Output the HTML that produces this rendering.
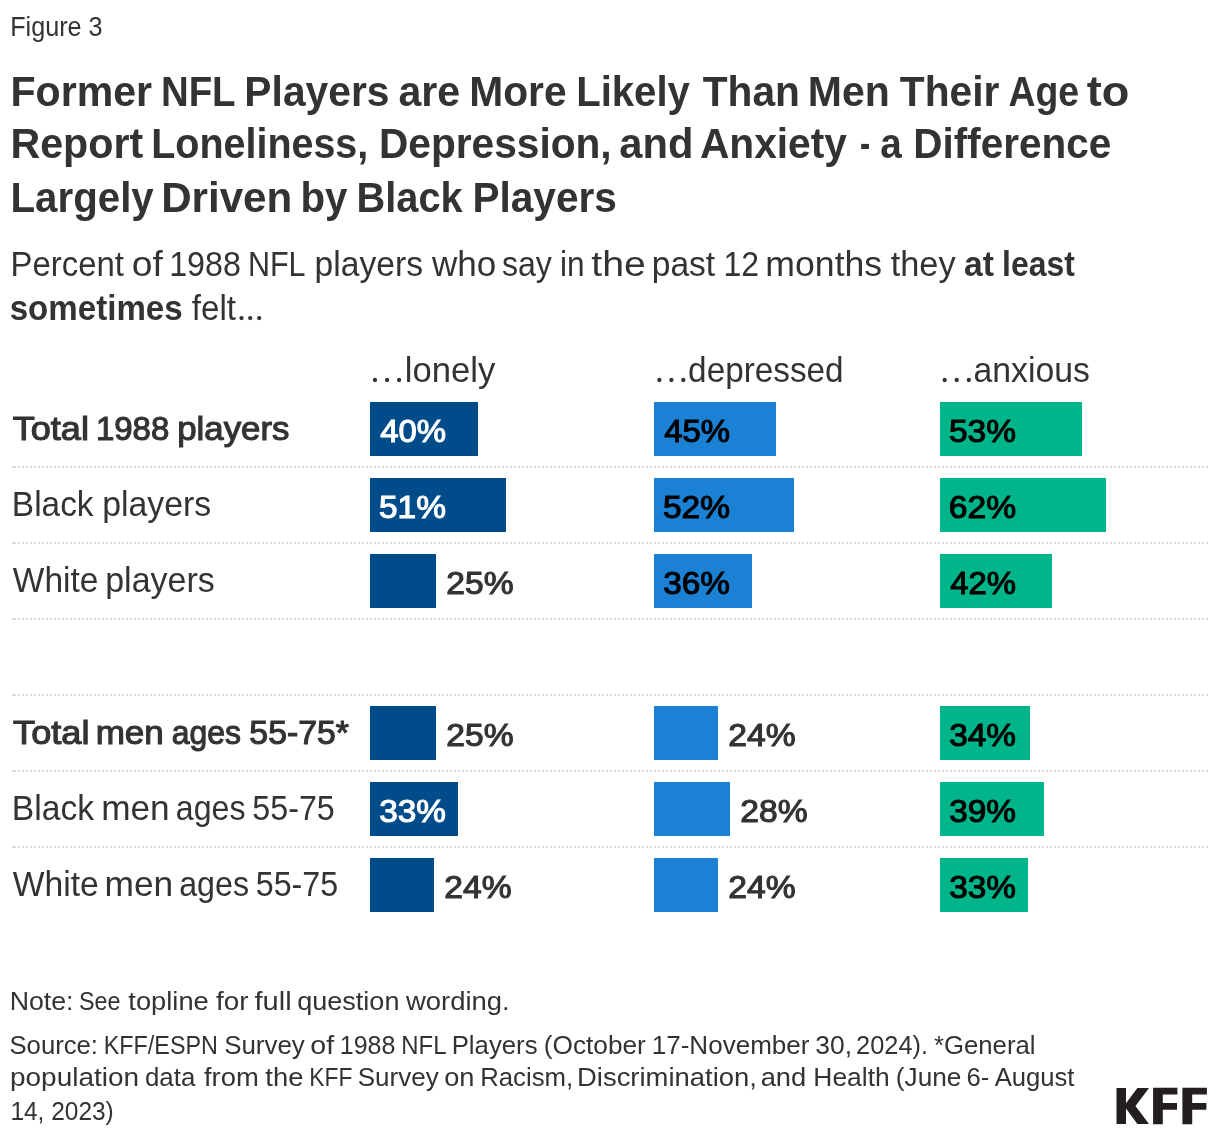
<!DOCTYPE html><html><head><meta charset="utf-8"><style>html,body{margin:0;padding:0;background:#fff;}svg{display:block;will-change:transform;}text{font-family:"Liberation Sans",sans-serif;}</style></head><body>
<svg width="1220" height="1138" viewBox="0 0 1220 1138">
<rect x="0" y="0" width="1220" height="1138" fill="#ffffff"/>
<rect x="12" y="466" width="4" height="2" fill="#d9d9d9"/>
<line x1="18" y1="467" x2="1208" y2="467" stroke="#d9d9d9" stroke-width="2" stroke-dasharray="2 2"/>
<rect x="12" y="542" width="4" height="2" fill="#d9d9d9"/>
<line x1="18" y1="543" x2="1208" y2="543" stroke="#d9d9d9" stroke-width="2" stroke-dasharray="2 2"/>
<rect x="12" y="618" width="4" height="2" fill="#d9d9d9"/>
<line x1="18" y1="619" x2="1208" y2="619" stroke="#d9d9d9" stroke-width="2" stroke-dasharray="2 2"/>
<rect x="12" y="694" width="4" height="2" fill="#d9d9d9"/>
<line x1="18" y1="695" x2="1208" y2="695" stroke="#d9d9d9" stroke-width="2" stroke-dasharray="2 2"/>
<rect x="12" y="770" width="4" height="2" fill="#d9d9d9"/>
<line x1="18" y1="771" x2="1208" y2="771" stroke="#d9d9d9" stroke-width="2" stroke-dasharray="2 2"/>
<rect x="12" y="846" width="4" height="2" fill="#d9d9d9"/>
<line x1="18" y1="847" x2="1208" y2="847" stroke="#d9d9d9" stroke-width="2" stroke-dasharray="2 2"/>
<rect x="370" y="402" width="108" height="54" fill="#004b89"/>
<rect x="654" y="402" width="122" height="54" fill="#1b81d5"/>
<rect x="940" y="402" width="142" height="54" fill="#00b58a"/>
<rect x="370" y="478" width="136" height="54" fill="#004b89"/>
<rect x="654" y="478" width="140" height="54" fill="#1b81d5"/>
<rect x="940" y="478" width="166" height="54" fill="#00b58a"/>
<rect x="370" y="554" width="66" height="54" fill="#004b89"/>
<rect x="654" y="554" width="98" height="54" fill="#1b81d5"/>
<rect x="940" y="554" width="112" height="54" fill="#00b58a"/>
<rect x="370" y="706" width="66" height="54" fill="#004b89"/>
<rect x="654" y="706" width="64" height="54" fill="#1b81d5"/>
<rect x="940" y="706" width="90" height="54" fill="#00b58a"/>
<rect x="370" y="782" width="88" height="54" fill="#004b89"/>
<rect x="654" y="782" width="76" height="54" fill="#1b81d5"/>
<rect x="940" y="782" width="104" height="54" fill="#00b58a"/>
<rect x="370" y="858" width="64" height="54" fill="#004b89"/>
<rect x="654" y="858" width="64" height="54" fill="#1b81d5"/>
<rect x="940" y="858" width="88" height="54" fill="#00b58a"/>
<text x="10.19" y="36" font-size="26.9" fill="#333333" textLength="92.37" lengthAdjust="spacingAndGlyphs" xml:space="preserve"><tspan font-weight="400">Figure 3</tspan></text>
<text x="10.45" y="105.8" font-size="42.2" fill="#333333" textLength="141.59" lengthAdjust="spacingAndGlyphs" xml:space="preserve"><tspan font-weight="700">Former</tspan></text>
<text x="160.93" y="105.8" font-size="42.2" fill="#333333" textLength="74.65" lengthAdjust="spacingAndGlyphs" xml:space="preserve"><tspan font-weight="700">NFL</tspan></text>
<text x="244.37" y="105.8" font-size="42.2" fill="#333333" textLength="145.14" lengthAdjust="spacingAndGlyphs" xml:space="preserve"><tspan font-weight="700">Players</tspan></text>
<text x="398.43" y="105.8" font-size="42.2" fill="#333333" textLength="61.69" lengthAdjust="spacingAndGlyphs" xml:space="preserve"><tspan font-weight="700">are</tspan></text>
<text x="469.19" y="105.8" font-size="42.2" fill="#333333" textLength="97.37" lengthAdjust="spacingAndGlyphs" xml:space="preserve"><tspan font-weight="700">More</tspan></text>
<text x="576.17" y="105.8" font-size="42.2" fill="#333333" textLength="113.67" lengthAdjust="spacingAndGlyphs" xml:space="preserve"><tspan font-weight="700">Likely</tspan></text>
<text x="702.74" y="105.8" font-size="42.2" fill="#333333" textLength="97.11" lengthAdjust="spacingAndGlyphs" xml:space="preserve"><tspan font-weight="700">Than</tspan></text>
<text x="807.80" y="105.8" font-size="42.2" fill="#333333" textLength="82.02" lengthAdjust="spacingAndGlyphs" xml:space="preserve"><tspan font-weight="700">Men</tspan></text>
<text x="899.79" y="105.8" font-size="42.2" fill="#333333" textLength="99.52" lengthAdjust="spacingAndGlyphs" xml:space="preserve"><tspan font-weight="700">Their</tspan></text>
<text x="1008.48" y="105.8" font-size="42.2" fill="#333333" textLength="70.59" lengthAdjust="spacingAndGlyphs" xml:space="preserve"><tspan font-weight="700">Age</tspan></text>
<text x="1086.83" y="105.8" font-size="42.2" fill="#333333" textLength="42.56" lengthAdjust="spacingAndGlyphs" xml:space="preserve"><tspan font-weight="700">to</tspan></text>
<text x="10.45" y="158" font-size="42.2" fill="#333333" textLength="132.69" lengthAdjust="spacingAndGlyphs" xml:space="preserve"><tspan font-weight="700">Report</tspan></text>
<text x="151.22" y="158" font-size="42.2" fill="#333333" textLength="217.06" lengthAdjust="spacingAndGlyphs" xml:space="preserve"><tspan font-weight="700">Loneliness,</tspan></text>
<text x="378.92" y="158" font-size="42.2" fill="#333333" textLength="232.77" lengthAdjust="spacingAndGlyphs" xml:space="preserve"><tspan font-weight="700">Depression,</tspan></text>
<text x="619.35" y="158" font-size="42.2" fill="#333333" textLength="74.15" lengthAdjust="spacingAndGlyphs" xml:space="preserve"><tspan font-weight="700">and</tspan></text>
<text x="699.91" y="158" font-size="42.2" fill="#333333" textLength="147.00" lengthAdjust="spacingAndGlyphs" xml:space="preserve"><tspan font-weight="700">Anxiety</tspan></text>
<text x="859.98" y="158" font-size="42.2" fill="#333333" textLength="10.17" lengthAdjust="spacingAndGlyphs" xml:space="preserve"><tspan font-weight="700">-</tspan></text>
<text x="880.34" y="158" font-size="42.2" fill="#333333" textLength="21.52" lengthAdjust="spacingAndGlyphs" xml:space="preserve"><tspan font-weight="700">a</tspan></text>
<text x="913.15" y="158" font-size="42.2" fill="#333333" textLength="198.12" lengthAdjust="spacingAndGlyphs" xml:space="preserve"><tspan font-weight="700">Difference</tspan></text>
<text x="10.51" y="211.7" font-size="42.2" fill="#333333" textLength="143.21" lengthAdjust="spacingAndGlyphs" xml:space="preserve"><tspan font-weight="700">Largely</tspan></text>
<text x="161.17" y="211.7" font-size="42.2" fill="#333333" textLength="131.15" lengthAdjust="spacingAndGlyphs" xml:space="preserve"><tspan font-weight="700">Driven</tspan></text>
<text x="300.40" y="211.7" font-size="42.2" fill="#333333" textLength="47.00" lengthAdjust="spacingAndGlyphs" xml:space="preserve"><tspan font-weight="700">by</tspan></text>
<text x="356.50" y="211.7" font-size="42.2" fill="#333333" textLength="106.22" lengthAdjust="spacingAndGlyphs" xml:space="preserve"><tspan font-weight="700">Black</tspan></text>
<text x="472.42" y="211.7" font-size="42.2" fill="#333333" textLength="144.55" lengthAdjust="spacingAndGlyphs" xml:space="preserve"><tspan font-weight="700">Players</tspan></text>
<text x="10.51" y="275.7" font-size="34.2" fill="#333333" textLength="113.40" lengthAdjust="spacingAndGlyphs" xml:space="preserve"><tspan font-weight="400">Percent</tspan></text>
<text x="131.84" y="275.7" font-size="34.2" fill="#333333" textLength="31.08" lengthAdjust="spacingAndGlyphs" xml:space="preserve"><tspan font-weight="400">of</tspan></text>
<text x="169.13" y="275.7" font-size="34.2" fill="#333333" textLength="71.75" lengthAdjust="spacingAndGlyphs" xml:space="preserve"><tspan font-weight="400">1988</tspan></text>
<text x="247.92" y="275.7" font-size="34.2" fill="#333333" textLength="57.63" lengthAdjust="spacingAndGlyphs" xml:space="preserve"><tspan font-weight="400">NFL</tspan></text>
<text x="314.61" y="275.7" font-size="34.2" fill="#333333" textLength="108.38" lengthAdjust="spacingAndGlyphs" xml:space="preserve"><tspan font-weight="400">players</tspan></text>
<text x="431.99" y="275.7" font-size="34.2" fill="#333333" textLength="64.24" lengthAdjust="spacingAndGlyphs" xml:space="preserve"><tspan font-weight="400">who</tspan></text>
<text x="501.94" y="275.7" font-size="34.2" fill="#333333" textLength="49.99" lengthAdjust="spacingAndGlyphs" xml:space="preserve"><tspan font-weight="400">say</tspan></text>
<text x="559.94" y="275.7" font-size="34.2" fill="#333333" textLength="24.58" lengthAdjust="spacingAndGlyphs" xml:space="preserve"><tspan font-weight="400">in</tspan></text>
<text x="591.28" y="275.7" font-size="34.2" fill="#333333" textLength="54.59" lengthAdjust="spacingAndGlyphs" xml:space="preserve"><tspan font-weight="400">the</tspan></text>
<text x="651.69" y="275.7" font-size="34.2" fill="#333333" textLength="63.53" lengthAdjust="spacingAndGlyphs" xml:space="preserve"><tspan font-weight="400">past</tspan></text>
<text x="723.58" y="275.7" font-size="34.2" fill="#333333" textLength="35.57" lengthAdjust="spacingAndGlyphs" xml:space="preserve"><tspan font-weight="400">12</tspan></text>
<text x="765.37" y="275.7" font-size="34.2" fill="#333333" textLength="116.82" lengthAdjust="spacingAndGlyphs" xml:space="preserve"><tspan font-weight="400">months</tspan></text>
<text x="890.73" y="275.7" font-size="34.2" fill="#333333" textLength="64.91" lengthAdjust="spacingAndGlyphs" xml:space="preserve"><tspan font-weight="400">they</tspan></text>
<text x="964.01" y="275.7" font-size="34.2" fill="#333333" textLength="29.84" lengthAdjust="spacingAndGlyphs" xml:space="preserve"><tspan font-weight="700">at</tspan></text>
<text x="1002.02" y="275.7" font-size="34.2" fill="#333333" textLength="72.80" lengthAdjust="spacingAndGlyphs" xml:space="preserve"><tspan font-weight="700">least</tspan></text>
<text x="9.72" y="320" font-size="34.2" fill="#333333" textLength="226.24" lengthAdjust="spacingAndGlyphs" xml:space="preserve"><tspan font-weight="700">sometimes</tspan><tspan font-weight="400"> felt</tspan></text>
<text x="404.76" y="382" font-size="34.5" fill="#333333" textLength="90.51" lengthAdjust="spacingAndGlyphs" xml:space="preserve"><tspan font-weight="400">lonely</tspan></text>
<text x="688.12" y="382" font-size="34.5" fill="#333333" textLength="155.50" lengthAdjust="spacingAndGlyphs" xml:space="preserve"><tspan font-weight="400">depressed</tspan></text>
<text x="973.53" y="382" font-size="34.5" fill="#333333" textLength="116.36" lengthAdjust="spacingAndGlyphs" xml:space="preserve"><tspan font-weight="400">anxious</tspan></text>
<text x="12.68" y="440" font-size="33.2" fill="#333333" textLength="76.30" lengthAdjust="spacingAndGlyphs" xml:space="preserve"><tspan font-weight="400" stroke="#333333" stroke-width="1.1">Total</tspan></text>
<text x="95.97" y="440" font-size="33.2" fill="#333333" textLength="73.31" lengthAdjust="spacingAndGlyphs" xml:space="preserve"><tspan font-weight="400" stroke="#333333" stroke-width="1.1">1988</tspan></text>
<text x="177.19" y="440" font-size="33.2" fill="#333333" textLength="112.20" lengthAdjust="spacingAndGlyphs" xml:space="preserve"><tspan font-weight="400" stroke="#333333" stroke-width="1.1">players</tspan></text>
<text x="11.86" y="516" font-size="34.5" fill="#333333" textLength="81.68" lengthAdjust="spacingAndGlyphs" xml:space="preserve"><tspan font-weight="400">Black</tspan></text>
<text x="102.21" y="516" font-size="34.5" fill="#333333" textLength="109.03" lengthAdjust="spacingAndGlyphs" xml:space="preserve"><tspan font-weight="400">players</tspan></text>
<text x="12.79" y="592" font-size="34.5" fill="#333333" textLength="85.63" lengthAdjust="spacingAndGlyphs" xml:space="preserve"><tspan font-weight="400">White</tspan></text>
<text x="105.19" y="592" font-size="34.5" fill="#333333" textLength="109.51" lengthAdjust="spacingAndGlyphs" xml:space="preserve"><tspan font-weight="400">players</tspan></text>
<text x="13.13" y="744" font-size="33.2" fill="#333333" textLength="76.37" lengthAdjust="spacingAndGlyphs" xml:space="preserve"><tspan font-weight="400" stroke="#333333" stroke-width="1.1">Total</tspan></text>
<text x="95.68" y="744" font-size="33.2" fill="#333333" textLength="68.16" lengthAdjust="spacingAndGlyphs" xml:space="preserve"><tspan font-weight="400" stroke="#333333" stroke-width="1.1">men</tspan></text>
<text x="171.83" y="744" font-size="33.2" fill="#333333" textLength="69.15" lengthAdjust="spacingAndGlyphs" xml:space="preserve"><tspan font-weight="400" stroke="#333333" stroke-width="1.1">ages</tspan></text>
<text x="249.35" y="744" font-size="33.2" fill="#333333" textLength="99.54" lengthAdjust="spacingAndGlyphs" xml:space="preserve"><tspan font-weight="400" stroke="#333333" stroke-width="1.1">55-75*</tspan></text>
<text x="11.84" y="820" font-size="34.5" fill="#333333" textLength="82.35" lengthAdjust="spacingAndGlyphs" xml:space="preserve"><tspan font-weight="400">Black</tspan></text>
<text x="101.24" y="820" font-size="34.5" fill="#333333" textLength="68.47" lengthAdjust="spacingAndGlyphs" xml:space="preserve"><tspan font-weight="400">men</tspan></text>
<text x="175.87" y="820" font-size="34.5" fill="#333333" textLength="69.61" lengthAdjust="spacingAndGlyphs" xml:space="preserve"><tspan font-weight="400">ages</tspan></text>
<text x="252.36" y="820" font-size="34.5" fill="#333333" textLength="82.40" lengthAdjust="spacingAndGlyphs" xml:space="preserve"><tspan font-weight="400">55-75</tspan></text>
<text x="12.79" y="896" font-size="34.5" fill="#333333" textLength="86.04" lengthAdjust="spacingAndGlyphs" xml:space="preserve"><tspan font-weight="400">White</tspan></text>
<text x="104.49" y="896" font-size="34.5" fill="#333333" textLength="68.71" lengthAdjust="spacingAndGlyphs" xml:space="preserve"><tspan font-weight="400">men</tspan></text>
<text x="179.19" y="896" font-size="34.5" fill="#333333" textLength="69.82" lengthAdjust="spacingAndGlyphs" xml:space="preserve"><tspan font-weight="400">ages</tspan></text>
<text x="255.74" y="896" font-size="34.5" fill="#333333" textLength="82.36" lengthAdjust="spacingAndGlyphs" xml:space="preserve"><tspan font-weight="400">55-75</tspan></text>
<text x="9.67" y="1010" font-size="25.9" fill="#333333" textLength="63.86" lengthAdjust="spacingAndGlyphs" xml:space="preserve"><tspan font-weight="400">Note:</tspan></text>
<text x="78.91" y="1010" font-size="25.9" fill="#333333" textLength="41.53" lengthAdjust="spacingAndGlyphs" xml:space="preserve"><tspan font-weight="400">See</tspan></text>
<text x="128.35" y="1010" font-size="25.9" fill="#333333" textLength="80.43" lengthAdjust="spacingAndGlyphs" xml:space="preserve"><tspan font-weight="400">topline</tspan></text>
<text x="216.02" y="1010" font-size="25.9" fill="#333333" textLength="32.49" lengthAdjust="spacingAndGlyphs" xml:space="preserve"><tspan font-weight="400">for</tspan></text>
<text x="254.46" y="1010" font-size="25.9" fill="#333333" textLength="37.15" lengthAdjust="spacingAndGlyphs" xml:space="preserve"><tspan font-weight="400">full</tspan></text>
<text x="297.19" y="1010" font-size="25.9" fill="#333333" textLength="102.24" lengthAdjust="spacingAndGlyphs" xml:space="preserve"><tspan font-weight="400">question</tspan></text>
<text x="405.95" y="1010" font-size="25.9" fill="#333333" textLength="103.79" lengthAdjust="spacingAndGlyphs" xml:space="preserve"><tspan font-weight="400">wording.</tspan></text>
<text x="9.49" y="1053.8" font-size="25.9" fill="#333333" textLength="88.51" lengthAdjust="spacingAndGlyphs" xml:space="preserve"><tspan font-weight="400">Source:</tspan></text>
<text x="103.76" y="1053.8" font-size="25.9" fill="#333333" textLength="114.13" lengthAdjust="spacingAndGlyphs" xml:space="preserve"><tspan font-weight="400">KFF/ESPN</tspan></text>
<text x="224.18" y="1053.8" font-size="25.9" fill="#333333" textLength="80.59" lengthAdjust="spacingAndGlyphs" xml:space="preserve"><tspan font-weight="400">Survey</tspan></text>
<text x="310.27" y="1053.8" font-size="25.9" fill="#333333" textLength="23.82" lengthAdjust="spacingAndGlyphs" xml:space="preserve"><tspan font-weight="400">of</tspan></text>
<text x="339.78" y="1053.8" font-size="25.9" fill="#333333" textLength="55.56" lengthAdjust="spacingAndGlyphs" xml:space="preserve"><tspan font-weight="400">1988</tspan></text>
<text x="401.29" y="1053.8" font-size="25.9" fill="#333333" textLength="45.15" lengthAdjust="spacingAndGlyphs" xml:space="preserve"><tspan font-weight="400">NFL</tspan></text>
<text x="451.70" y="1053.8" font-size="25.9" fill="#333333" textLength="85.88" lengthAdjust="spacingAndGlyphs" xml:space="preserve"><tspan font-weight="400">Players</tspan></text>
<text x="543.88" y="1053.8" font-size="25.9" fill="#333333" textLength="101.93" lengthAdjust="spacingAndGlyphs" xml:space="preserve"><tspan font-weight="400">(October</tspan></text>
<text x="651.73" y="1053.8" font-size="25.9" fill="#333333" textLength="157.79" lengthAdjust="spacingAndGlyphs" xml:space="preserve"><tspan font-weight="400">17-November</tspan></text>
<text x="815.38" y="1053.8" font-size="25.9" fill="#333333" textLength="36.75" lengthAdjust="spacingAndGlyphs" xml:space="preserve"><tspan font-weight="400">30,</tspan></text>
<text x="856.11" y="1053.8" font-size="25.9" fill="#333333" textLength="71.86" lengthAdjust="spacingAndGlyphs" xml:space="preserve"><tspan font-weight="400">2024).</tspan></text>
<text x="934.02" y="1053.8" font-size="25.9" fill="#333333" textLength="101.46" lengthAdjust="spacingAndGlyphs" xml:space="preserve"><tspan font-weight="400">*General</tspan></text>
<text x="9.99" y="1085.8" font-size="25.9" fill="#333333" textLength="129.07" lengthAdjust="spacingAndGlyphs" xml:space="preserve"><tspan font-weight="400">population</tspan></text>
<text x="144.96" y="1085.8" font-size="25.9" fill="#333333" textLength="50.33" lengthAdjust="spacingAndGlyphs" xml:space="preserve"><tspan font-weight="400">data</tspan></text>
<text x="203.91" y="1085.8" font-size="25.9" fill="#333333" textLength="54.87" lengthAdjust="spacingAndGlyphs" xml:space="preserve"><tspan font-weight="400">from</tspan></text>
<text x="265.34" y="1085.8" font-size="25.9" fill="#333333" textLength="38.07" lengthAdjust="spacingAndGlyphs" xml:space="preserve"><tspan font-weight="400">the</tspan></text>
<text x="309.34" y="1085.8" font-size="25.9" fill="#333333" textLength="42.97" lengthAdjust="spacingAndGlyphs" xml:space="preserve"><tspan font-weight="400">KFF</tspan></text>
<text x="357.78" y="1085.8" font-size="25.9" fill="#333333" textLength="80.99" lengthAdjust="spacingAndGlyphs" xml:space="preserve"><tspan font-weight="400">Survey</tspan></text>
<text x="444.16" y="1085.8" font-size="25.9" fill="#333333" textLength="30.31" lengthAdjust="spacingAndGlyphs" xml:space="preserve"><tspan font-weight="400">on</tspan></text>
<text x="480.15" y="1085.8" font-size="25.9" fill="#333333" textLength="93.02" lengthAdjust="spacingAndGlyphs" xml:space="preserve"><tspan font-weight="400">Racism,</tspan></text>
<text x="577.00" y="1085.8" font-size="25.9" fill="#333333" textLength="179.93" lengthAdjust="spacingAndGlyphs" xml:space="preserve"><tspan font-weight="400">Discrimination,</tspan></text>
<text x="760.65" y="1085.8" font-size="25.9" fill="#333333" textLength="45.59" lengthAdjust="spacingAndGlyphs" xml:space="preserve"><tspan font-weight="400">and</tspan></text>
<text x="813.34" y="1085.8" font-size="25.9" fill="#333333" textLength="76.33" lengthAdjust="spacingAndGlyphs" xml:space="preserve"><tspan font-weight="400">Health</tspan></text>
<text x="895.83" y="1085.8" font-size="25.9" fill="#333333" textLength="65.54" lengthAdjust="spacingAndGlyphs" xml:space="preserve"><tspan font-weight="400">(June</tspan></text>
<text x="966.39" y="1085.8" font-size="25.9" fill="#333333" textLength="22.80" lengthAdjust="spacingAndGlyphs" xml:space="preserve"><tspan font-weight="400">6-</tspan></text>
<text x="994.63" y="1085.8" font-size="25.9" fill="#333333" textLength="79.80" lengthAdjust="spacingAndGlyphs" xml:space="preserve"><tspan font-weight="400">August</tspan></text>
<text x="10.38" y="1119.8" font-size="25.9" fill="#333333" textLength="103.37" lengthAdjust="spacingAndGlyphs" xml:space="preserve"><tspan font-weight="400">14, 2023)</tspan></text>
<text x="380.16" y="441.8" font-size="31.8" fill="#ffffff" textLength="65.84" lengthAdjust="spacingAndGlyphs" xml:space="preserve"><tspan font-weight="400" stroke="#ffffff" stroke-width="1.1">40%</tspan></text>
<text x="664.16" y="441.8" font-size="31.8" fill="#000000" textLength="65.84" lengthAdjust="spacingAndGlyphs" xml:space="preserve"><tspan font-weight="400" stroke="#000000" stroke-width="1.1">45%</tspan></text>
<text x="949.00" y="441.8" font-size="31.8" fill="#000000" textLength="66.99" lengthAdjust="spacingAndGlyphs" xml:space="preserve"><tspan font-weight="400" stroke="#000000" stroke-width="1.1">53%</tspan></text>
<text x="379.00" y="517.8" font-size="31.8" fill="#ffffff" textLength="66.99" lengthAdjust="spacingAndGlyphs" xml:space="preserve"><tspan font-weight="400" stroke="#ffffff" stroke-width="1.1">51%</tspan></text>
<text x="663.00" y="517.8" font-size="31.8" fill="#000000" textLength="66.99" lengthAdjust="spacingAndGlyphs" xml:space="preserve"><tspan font-weight="400" stroke="#000000" stroke-width="1.1">52%</tspan></text>
<text x="948.80" y="517.8" font-size="31.8" fill="#000000" textLength="67.29" lengthAdjust="spacingAndGlyphs" xml:space="preserve"><tspan font-weight="400" stroke="#000000" stroke-width="1.1">62%</tspan></text>
<text x="446.32" y="593.8" font-size="31.8" fill="#333333" textLength="67.29" lengthAdjust="spacingAndGlyphs" xml:space="preserve"><tspan font-weight="400" stroke="#333333" stroke-width="1.1">25%</tspan></text>
<text x="663.19" y="593.8" font-size="31.8" fill="#000000" textLength="66.76" lengthAdjust="spacingAndGlyphs" xml:space="preserve"><tspan font-weight="400" stroke="#000000" stroke-width="1.1">36%</tspan></text>
<text x="950.16" y="593.8" font-size="31.8" fill="#000000" textLength="65.84" lengthAdjust="spacingAndGlyphs" xml:space="preserve"><tspan font-weight="400" stroke="#000000" stroke-width="1.1">42%</tspan></text>
<text x="446.32" y="745.8" font-size="31.8" fill="#333333" textLength="67.29" lengthAdjust="spacingAndGlyphs" xml:space="preserve"><tspan font-weight="400" stroke="#333333" stroke-width="1.1">25%</tspan></text>
<text x="728.32" y="745.8" font-size="31.8" fill="#333333" textLength="67.29" lengthAdjust="spacingAndGlyphs" xml:space="preserve"><tspan font-weight="400" stroke="#333333" stroke-width="1.1">24%</tspan></text>
<text x="949.19" y="745.8" font-size="31.8" fill="#000000" textLength="66.76" lengthAdjust="spacingAndGlyphs" xml:space="preserve"><tspan font-weight="400" stroke="#000000" stroke-width="1.1">34%</tspan></text>
<text x="379.19" y="821.8" font-size="31.8" fill="#ffffff" textLength="66.76" lengthAdjust="spacingAndGlyphs" xml:space="preserve"><tspan font-weight="400" stroke="#ffffff" stroke-width="1.1">33%</tspan></text>
<text x="740.32" y="821.8" font-size="31.8" fill="#333333" textLength="67.29" lengthAdjust="spacingAndGlyphs" xml:space="preserve"><tspan font-weight="400" stroke="#333333" stroke-width="1.1">28%</tspan></text>
<text x="949.19" y="821.8" font-size="31.8" fill="#000000" textLength="66.76" lengthAdjust="spacingAndGlyphs" xml:space="preserve"><tspan font-weight="400" stroke="#000000" stroke-width="1.1">39%</tspan></text>
<text x="444.32" y="897.8" font-size="31.8" fill="#333333" textLength="67.29" lengthAdjust="spacingAndGlyphs" xml:space="preserve"><tspan font-weight="400" stroke="#333333" stroke-width="1.1">24%</tspan></text>
<text x="728.32" y="897.8" font-size="31.8" fill="#333333" textLength="67.29" lengthAdjust="spacingAndGlyphs" xml:space="preserve"><tspan font-weight="400" stroke="#333333" stroke-width="1.1">24%</tspan></text>
<text x="949.19" y="897.8" font-size="31.8" fill="#000000" textLength="66.76" lengthAdjust="spacingAndGlyphs" xml:space="preserve"><tspan font-weight="400" stroke="#000000" stroke-width="1.1">33%</tspan></text>
<circle cx="241.5" cy="318.1" r="2.15" fill="#333333"/>
<circle cx="250.2" cy="318.1" r="2.15" fill="#333333"/>
<circle cx="259.2" cy="318.1" r="2.15" fill="#333333"/>
<circle cx="375" cy="380" r="2.15" fill="#333333"/>
<circle cx="387.1" cy="380" r="2.15" fill="#333333"/>
<circle cx="399.1" cy="380" r="2.15" fill="#333333"/>
<circle cx="659.4" cy="380" r="2.15" fill="#333333"/>
<circle cx="671.4" cy="380" r="2.15" fill="#333333"/>
<circle cx="683.3" cy="380" r="2.15" fill="#333333"/>
<circle cx="944.7" cy="380" r="2.15" fill="#333333"/>
<circle cx="956.7" cy="380" r="2.15" fill="#333333"/>
<circle cx="968.8" cy="380" r="2.15" fill="#333333"/>
<g fill="#231f20"><polygon points="1116.5,1087.9 1126,1087.9 1126,1103.3 1137.4,1087.9 1149,1087.9 1135.5,1106.1 1149,1124.1 1137.4,1124.1 1126,1108.4 1126,1124.1 1116.5,1124.1"/><polygon points="1153.1,1087.7 1177.4,1087.7 1177.4,1094.6 1162.8,1094.6 1162.8,1103.1 1177,1103.1 1177,1109.7 1162.8,1109.7 1162.8,1124.3 1153.1,1124.3"/><polygon points="1182.4,1087.7 1206.9,1087.7 1206.9,1094.6 1192.2,1094.6 1192.2,1103.1 1206.4,1103.1 1206.4,1109.7 1192.2,1109.7 1192.2,1124.3 1182.4,1124.3"/></g>
</svg></body></html>
